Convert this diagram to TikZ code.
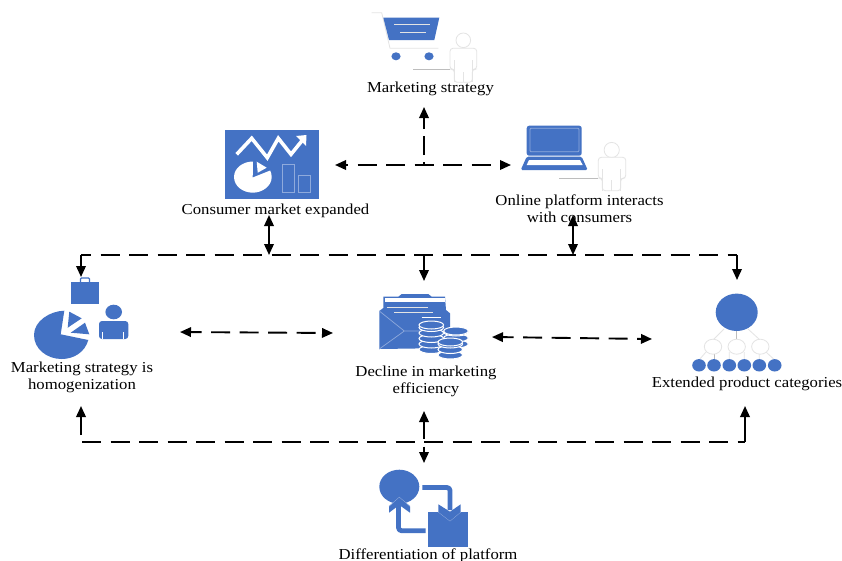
\documentclass[tikz,border=0pt]{standalone}
\usepackage{fontspec}
\setmainfont[FakeStretch=1.1]{Liberation Serif}
\usetikzlibrary{arrows.meta}
\definecolor{iconblue}{HTML}{4472C4}
\definecolor{pale}{HTML}{E4E4E4}
\definecolor{midgrey}{HTML}{BDBDBD}
\definecolor{lightblue}{HTML}{8FAADC}
\tikzset{
  lbl/.style={font=\fontsize{15.2}{17.5}\selectfont,align=center,inner sep=0pt,text=black},
  conn/.style={line width=1.9pt,black,dash pattern=on 19pt off 9.5pt},
  plainconn/.style={line width=1.9pt,black},
  tipEnd/.style={-{Triangle[length=11pt,width=9.5pt]}},
  tipBoth/.style={{Triangle[length=11pt,width=9.5pt]}-{Triangle[length=11pt,width=9.5pt]}},
  solidblue/.style={fill=iconblue,draw=none},
  paleline/.style={draw=pale,line width=0.8pt,fill=white},
  greyline/.style={draw=midgrey,line width=0.8pt},
  coin/.style={fill=iconblue,draw=white,line width=1pt},
  flow/.style={draw=iconblue,line width=4.8pt,line join=round,rounded corners=3pt}
}
\begin{document}
\begin{tikzpicture}[x=1pt,y=-1pt]
\useasboundingbox (0,0) rectangle (842,560);
\fill[white] (0,0) rectangle (842,560);

% ---- cart + person
\draw[paleline,fill=none] (371.7,12.7) -- (381.7,12.7) -- (390,48.3) -- (438.3,48.3);
\fill[solidblue] (383.3,17.7) -- (439.3,17.7) -- (434.3,40) -- (389,40) -- cycle;
\draw[pale,line width=0.9pt] (394,24.3) -- (430,24.3) (400,32.3) -- (426,32.3);
\fill[solidblue] (396,56.3) ellipse (4.6 and 4);
\fill[solidblue] (429,56.3) ellipse (4.6 and 4);
\draw[paleline] (463.3,40.3) circle (7.3);
\draw[paleline,rounded corners=3pt] (450,69.3) -- (450,48.3) -- (476.7,48.3) -- (476.7,69.3) -- (472.3,69.3) -- (472.3,82.3) -- (454.3,82.3) -- (454.3,69.3) -- cycle;
\draw[greyline] (413.3,69.3) -- (450,69.3);
\draw[pale,line width=0.8pt] (454.3,60) -- (454.3,82.3) (472.3,60) -- (472.3,82.3) (463.3,72) -- (463.3,82.3);
\node[lbl] (mstrat) at (430.5,88.5) {Marketing strategy};

% ---- chart
\fill[solidblue] (225,130) rectangle (319.3,198.7);
\draw[white,line width=3.6pt,line join=miter] (236.7,154.3) -- (251.7,138.3) -- (267.3,157.7) -- (278.3,138.3) -- (291,154.3) -- (303,139.5);
\fill[white] (296,136) -- (306.5,135) -- (306,146) -- cycle;
\fill[white] (252.7,177.5) -- (253,161.5) .. controls (243,161.5) and (234,168) .. (234,177) .. controls (234,186) and (243,192.7) .. (252.7,192.7) .. controls (262.5,192.7) and (271.7,186) .. (271.7,177) .. controls (271.7,174.5) and (271,172.5) .. (270.2,170.5) -- cycle;
\fill[white] (256.7,161.7) -- (266.7,167.7) -- (257.7,172.7) -- cycle;
\draw[lightblue,line width=0.7pt] (282.3,164.3) rectangle (294.7,192.7);
\draw[lightblue,line width=0.7pt] (298.3,175.7) rectangle (310.7,192.7);
\node[lbl] (cmarket) at (275.5,210.5) {Consumer market expanded};

% ---- laptop + person
\fill[solidblue,rounded corners=2.5pt] (526.7,125.7) rectangle (581.7,155.7);
\draw[lightblue,line width=0.8pt,rounded corners=1pt] (530,128.3) rectangle (579,151.7);
\fill[solidblue,rounded corners=1.5pt] (526.7,156.7) -- (581.7,156.7) -- (587.7,170) -- (520.7,170) -- cycle;
\fill[white] (529,160) -- (580,160) -- (582.7,165) -- (526.7,165) -- cycle;
\draw[paleline] (611.7,150) circle (7.6);
\draw[paleline,rounded corners=3pt] (598.3,178.3) -- (598.3,157.3) -- (625.7,157.3) -- (625.7,178.3) -- (620.7,178.3) -- (620.7,190.7) -- (602.3,190.7) -- (602.3,178.3) -- cycle;
\draw[greyline] (559.3,178.3) -- (598.3,178.3);
\draw[pale,line width=0.8pt] (602.3,169) -- (602.3,190.7) (620.7,169) -- (620.7,190.7) (611.7,180) -- (611.7,190.7);
\node[lbl] (online) at (579.5,208.5) {Online platform interacts\\with consumers};

% ---- bag, pie, person (left)
\fill[solidblue] (71.3,282.3) rectangle (99,304.3);
\draw[iconblue,line width=1.2pt,rounded corners=1pt] (80.5,282) -- (80.5,278) -- (89.5,278) -- (89.5,282);
\fill[solidblue] (64.3,310.7) .. controls (50,311) and (34,321) .. (34,335) .. controls (34,349) and (47,359) .. (61.7,359) .. controls (74,359) and (85,352) .. (88.3,340) -- (60.7,334.3) -- cycle;
\fill[solidblue] (69.3,311.7) -- (81.7,318.3) -- (67.7,327.7) -- cycle;
\fill[solidblue] (70.7,332.7) -- (85,322.7) -- (89.3,334.3) -- cycle;
\fill[solidblue] (113.7,312) ellipse (8.3 and 7.3);
\fill[solidblue,rounded corners=3pt] (99,339) -- (99,321) -- (128.3,321) -- (128.3,339) -- cycle;
\draw[white,line width=0.6pt] (102.7,332) -- (102.7,339) (123.3,332) -- (123.3,339);
\node[lbl] (homog) at (82,377.5) {Marketing strategy is\\homogenization};

% ---- envelope + coins (centre)
\fill[solidblue] (379.3,311) -- (383.3,308) -- (383.3,296.7) -- (398.3,296.7) -- (401.7,294) -- (428.3,294) -- (431.7,296.7) -- (445,296.7) -- (446,310) -- (450,313.3) -- (450,348) -- (379.3,349) -- cycle;
\fill[white] (385,297.7) rectangle (445,302.3);
\draw[pale,line width=0.9pt] (386.7,307.3) -- (427.7,307.3) (394.3,312.7) -- (433.3,312.7);
\draw[white,line width=0.9pt] (421.7,317.7) -- (441,317.7);
\draw[lightblue,line width=0.7pt] (379.3,311) -- (404.3,331) -- (428,331) (379.3,349) -- (404.3,331);
\foreach \yy in {344,338,332,331}{\draw[coin] (456,\yy) ellipse (12.3 and 4);}
\foreach \yy in {349.5,344,338.5,333,327.5,325}{\draw[coin] (431.3,\yy) ellipse (12.3 and 4);}
\foreach \yy in {355,349.5,344,342}{\draw[coin] (450.3,\yy) ellipse (12.3 and 4);}
\node[lbl] (decline) at (426,381.5) {Decline in marketing\\efficiency};

% ---- tree (right)
\draw[pale,line width=0.8pt] (724,329) -- (713,340) (748,329) -- (760,340);
\draw[greyline] (736.7,330) -- (736.7,340);
\draw[pale,line width=0.8pt] (706,352) -- (699,360) (729.3,352) -- (729.3,360) (744.3,352) -- (744.3,360) (759.3,353) -- (759.3,360) (766,352) -- (774.7,360);
\draw[greyline] (714,353) -- (714,360);
\fill[solidblue] (736.7,312.3) ellipse (21 and 18.7);
\foreach \xx in {713,736.7,760.3}{\draw[paleline] (\xx,346.7) ellipse (8.7 and 7.5);}
\foreach \xx in {699,714,729.3,744.3,759.3,774.7}{\fill[solidblue] (\xx,365.3) ellipse (6.8 and 6.2);}
\node[lbl] (extended) at (747,383.5) {Extended product categories};

% ---- differentiation icon
\fill[solidblue] (399.3,486.7) ellipse (20 and 17);
\fill[solidblue] (428.3,512.3) rectangle (468.3,547.3);
\draw[flow] (422.3,487.5) -- (450,487.5) -- (450,510);
\draw[lightblue,line width=0.6pt] (438.3,512) -- (450,521) -- (460.7,512);
\fill[solidblue] (438.3,504.3) -- (450,511.7) -- (460.7,504.3) -- (460.7,511.7) -- (450,520.7) -- (438.3,511.7) -- cycle;
\draw[flow] (425.7,530.7) -- (398.5,530.7) -- (398.5,505);
\draw[lightblue,line width=0.6pt] (389,506.3) -- (399.3,497.3) -- (410,506.3);
\fill[solidblue] (389,512.7) -- (389,506.7) -- (399.3,497.7) -- (410,506.7) -- (410,512.7) -- (399.3,505) -- cycle;
\node[lbl] (diff) at (428,555.5) {Differentiation of platform};

% ---- connector anchors
\coordinate (topUp) at (424,107);
\coordinate (jTop) at (424,165);
\coordinate (hL) at (335,165);
\coordinate (hR) at (511,165);
\coordinate (cmB) at (269,215);
\coordinate (cmJ) at (269,255);
\coordinate (onB) at (573,215);
\coordinate (onJ) at (573,255);
\coordinate (busL) at (81,255);
\coordinate (busM) at (424,255);
\coordinate (busR) at (737,255);
\coordinate (bagT) at (81,277);
\coordinate (envT) at (424,281);
\coordinate (treeT) at (737,280);
\coordinate (pieR) at (180,332);
\coordinate (envL) at (333,333);
\coordinate (envR) at (492,337);
\coordinate (treeL) at (652,339);
\coordinate (homB) at (81,406);
\coordinate (homS) at (81,435);
\coordinate (lowL) at (82,442);
\coordinate (lowR) at (745,442);
\coordinate (extB) at (745,406);
\coordinate (decB) at (424,411);
\coordinate (difT) at (424,463);

% ---- connectors
\draw[conn,tipEnd,dash pattern=on 19pt off 7pt,dash phase=16pt] (jTop) -- (topUp);
\draw[conn,tipBoth,dash phase=16.5pt] (hL) -- (hR);
\draw[plainconn,tipBoth] (cmB) -- (cmJ);
\draw[plainconn,tipBoth] (onB) -- (onJ);
\draw[conn,dash phase=9pt] (busL) -- (busR);
\draw[plainconn,tipEnd] (busL) -- (bagT);
\draw[plainconn,tipEnd] (busM) -- (envT);
\draw[plainconn,tipEnd] (busR) -- (treeT);
\draw[conn,tipBoth,dash phase=8pt] (pieR) -- (envL);
\draw[conn,tipBoth,dash phase=8pt] (envR) -- (treeL);
\draw[plainconn,tipEnd] (homS) -- (homB);
\draw[conn] (lowL) -- (lowR);
\draw[plainconn,tipEnd] (lowR) -- (extB);
\draw[plainconn,tipBoth,dash pattern=on 17pt off 8pt] (decB) -- (difT);
\end{tikzpicture}
\end{document}
